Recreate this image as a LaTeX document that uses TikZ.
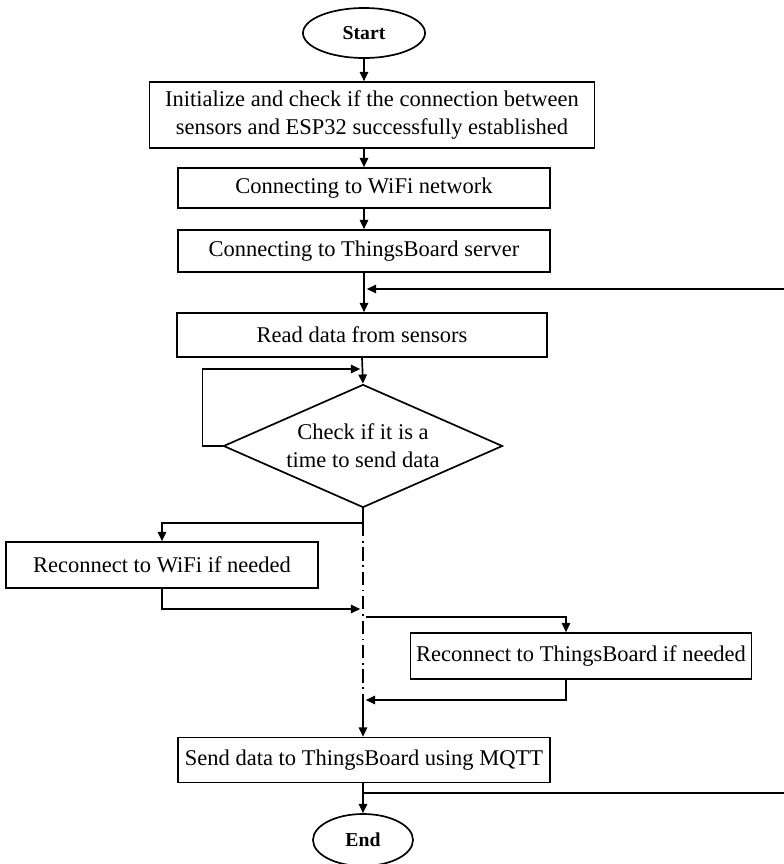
\documentclass[tikz,border=0pt]{standalone}
\usepackage{fontspec}
\setmainfont{Liberation Serif}
\usetikzlibrary{arrows.meta,positioning,shapes.geometric,calc}
\tikzset{
  flowbox/.style={draw, line width=1.2pt, rectangle, inner sep=0pt, align=center, font=\fontsize{16}{20}\selectfont},
  flowterm/.style={draw, line width=1.2pt, ellipse, inner sep=0pt, font=\fontsize{14}{16}\selectfont\bfseries},
  flowdec/.style={draw, line width=1.2pt, diamond, aspect=2.27, inner sep=0pt, align=center, font=\fontsize{16}{20}\selectfont},
  flowarr/.style={line width=1.2pt, -{Triangle[length=2.3mm,width=2.1mm]}},
  flowline/.style={line width=1.2pt},
  flowdashdot/.style={line width=0.9pt, dash pattern=on 3.3mm off 1.2mm on 0.4mm off 1.2mm}
}
\begin{document}
\begin{tikzpicture}[x=0.025cm, y=-0.025cm]
  \useasboundingbox (0,0) rectangle (784,864);
  %--- Main column ---
  \node[flowterm, minimum width=3.05cm, minimum height=1.25cm] (start) at (364,33) {Start};
  \node[flowbox, minimum width=11.125cm, minimum height=1.65cm] (init) at (372,115) {Initialize and check if the connection between\\sensors and ESP32 successfully established};
  \node[flowbox, minimum width=9.3cm, minimum height=1.0cm] (wifi) at (364,188) {Connecting to WiFi network};
  \node[flowbox, minimum width=9.3cm, minimum height=1.05cm] (tb) at (364,251) {Connecting to ThingsBoard server};
  \node[flowbox, minimum width=9.25cm, minimum height=1.1cm] (read) at (362,335) {Read data from sensors};
  \node[flowdec, minimum width=6.975cm, minimum height=3.075cm] (check) at (363,446) {Check if it is a\\time to send data};

  %--- Side branches ---
  \node[flowbox, minimum width=7.8cm, minimum height=1.15cm] (wifire) at (162,565) {Reconnect to WiFi if needed};
  \node[flowbox, minimum width=8.525cm, minimum height=1.15cm] (tbre) at (581,656) {Reconnect to ThingsBoard if needed};

  %--- Send and end ---
  \node[flowbox, minimum width=9.3cm, minimum height=1.125cm] (send) at (364,760) {Send data to ThingsBoard using MQTT};
  \node[flowterm, minimum width=2.5cm, minimum height=1.3cm] (end) at (363,840) {End};

  % Junction points
  \coordinate (ret1) at (784,289);
  \coordinate (ret2) at (784,793);
  \coordinate (tap) at (363,793);
  \coordinate (split) at (363,523);
  \coordinate (join) at (363,700);

  % Arrows down the main column
  \draw[flowarr] (start.south) -- (start.south |- init.north);
  \draw[flowarr] (start.south |- init.south) -- (wifi.north);
  \draw[flowarr] (wifi) -- (tb);
  \draw[flowarr] (tb.south) -- (tb.south |- read.north);
  \draw[flowarr, shorten >=2pt] (ret1) -- (tb.south |- ret1);
  \draw[flowarr] (read.south) -- (check.north);
  \draw[flowarr, shorten >=2pt] (check.west) -- ++(-20,0) |- (check.north |- 0,369);

  % Branch to WiFi reconnect
  \draw[flowline] (check.south) -- (split);
  \draw[flowarr] (split) -| (wifire.north);
  \draw[flowarr, shorten >=2pt] (wifire.south) |- (check.south |- 0,609);

  % Branch to ThingsBoard reconnect
  \draw[flowarr] ($(split)+(3,94)$) -| ($(tbre.north)+(-15,0)$);
  \draw[flowarr, shorten >=2pt] ($(tbre.south)+(-15,0)$) |- (join);
  \draw[flowdashdot] (split) -- (join);

  % Send and loop back
  \draw[flowarr] (join) -- (join |- send.north);
  \draw[flowarr] (send.south -| join) -- (end.north);
  \draw[flowline] (tap) -- (ret2);
\end{tikzpicture}
\end{document}
